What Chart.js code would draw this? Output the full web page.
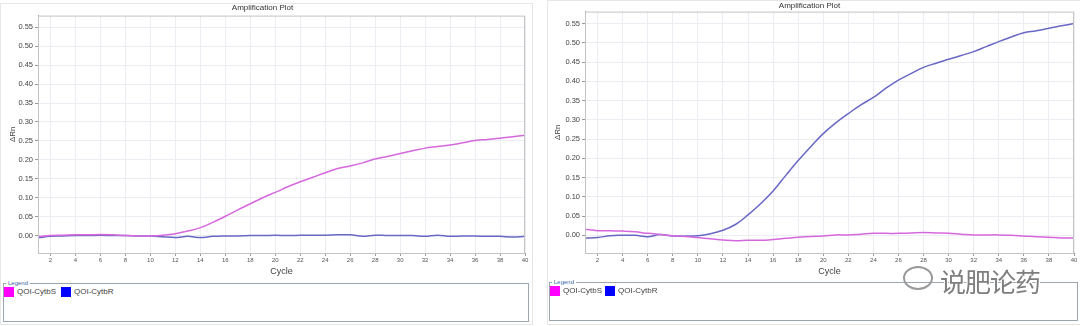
<!DOCTYPE html>
<html>
<head>
<meta charset="utf-8">
<script src="https://cdn.jsdelivr.net/npm/chart.js@4.4.0/dist/chart.umd.min.js"></script>
<style>
    body { margin: 0; background: #fff; font-family: "Liberation Sans", Arial, sans-serif; }
    #page { position: relative; width: 1080px; height: 326px; overflow: hidden; }
    .panel { position: absolute; border: 1px solid #e6e6e6; }
    .holder { position: absolute; width: 535px; height: 280px; }
    fieldset.legendBox {
        position: absolute; margin: 0; padding: 0;
        border: 1px solid #9aa6b0; box-sizing: border-box;
    }
    fieldset.legendBox legend {
        font-size: 6px; color: #3a64a8; padding: 0 2px; margin-left: 2px; line-height: 6px;
    }
    .item { position: absolute; top: 1px; font-size: 8px; color: #444; line-height: 10px; white-space: nowrap; }
    .swatch { display: inline-block; width: 10px; height: 10px; vertical-align: top; margin-right: 3px; }
    #mark {
        position: absolute; left: 940px; top: 262px; font-size: 26px; color: #7e7e7e;
        font-family: "Noto Sans CJK SC", sans-serif; letter-spacing: -1px;
        text-shadow: 1px 1px 0 #fff, -1px -1px 0 #fff, 1px -1px 0 #fff, -1px 1px 0 #fff;
    }
    #bubble {
        position: absolute; left: 903px; top: 266px; width: 30px; height: 24px;
        border: 2px solid #9a9a9a; border-radius: 50%; box-sizing: border-box;
    }
</style>
</head>
<body>
<div id="page">
    <div class="panel" style="left:0px;top:3px;width:531px;height:320px;"></div>
    <div class="panel" style="left:547px;top:0px;width:532px;height:323px;"></div>

    <div class="holder" style="left:0px;top:0px;"><canvas id="leftChart"></canvas></div>
    <div class="holder" style="left:545px;top:0px;"><canvas id="rightChart"></canvas></div>

    <fieldset class="legendBox" style="left:3px;top:280px;width:526px;height:42px;">
        <legend>Legend</legend>
        <div class="item" style="left:0px;"><span class="swatch" style="background:#ff00ff"></span>QOI-CytbS</div>
        <div class="item" style="left:57px;"><span class="swatch" style="background:#0000ff"></span>QOI-CytbR</div>
    </fieldset>
    <fieldset class="legendBox" style="left:549px;top:279px;width:529px;height:42px;">
        <legend>Legend</legend>
        <div class="item" style="left:0px;"><span class="swatch" style="background:#ff00ff"></span>QOI-CytbS</div>
        <div class="item" style="left:55px;"><span class="swatch" style="background:#0000ff"></span>QOI-CytbR</div>
    </fieldset>

    <div id="bubble"></div>
    <div id="mark">说肥论药</div>
</div>

<script>
// cycle numbers (x values)
var cycles = [1, 2, 3, 4, 5, 6, 7, 8, 9, 10, 11, 12, 13, 14, 15, 16, 17, 18, 19, 20,
    21, 22, 23, 24, 25, 26, 27, 28, 29, 30, 31, 32, 33, 34, 35, 36, 37, 38, 39, 40];

// tick labels
var xTicks = [2, 4, 6, 8, 10, 12, 14, 16, 18, 20, 22, 24, 26, 28, 30, 32, 34, 36, 38, 40];
var yTicks = [0.00, 0.05, 0.10, 0.15, 0.20, 0.25, 0.30, 0.35, 0.40, 0.45, 0.50, 0.55];

var seriesNames = ["QOI-CytbS", "QOI-CytbR"];

// left plot
var leftCytbS = [-0.003, 0.000, 0.001, 0.002, 0.002, 0.003, 0.002, 0.000, -0.001, -0.001,
    0.001, 0.005, 0.012, 0.021, 0.035, 0.051, 0.068, 0.084, 0.100, 0.114,
    0.129, 0.142, 0.154, 0.166, 0.177, 0.184, 0.192, 0.202, 0.209, 0.217,
    0.224, 0.231, 0.235, 0.239, 0.245, 0.251, 0.254, 0.257, 0.261, 0.265];
var leftCytbR = [-0.006, -0.002, -0.001, 0.000, 0.000, 0.001, 0.000, 0.000, -0.001, -0.001,
    -0.003, -0.005, -0.002, -0.005, -0.002, -0.001, -0.001, 0.000, 0.000, 0.001,
    0.000, 0.001, 0.001, 0.001, 0.002, 0.002, -0.002, 0.001, 0.000, 0.000,
    0.000, -0.002, 0.001, -0.002, -0.001, -0.001, -0.002, -0.002, -0.004, -0.002];

// right plot
var rightCytbS = [0.016, 0.012, 0.012, 0.011, 0.009, 0.005, 0.002, -0.001, -0.003, -0.006,
    -0.009, -0.012, -0.014, -0.013, -0.013, -0.011, -0.008, -0.005, -0.003, -0.002,
    0.001, 0.001, 0.003, 0.005, 0.005, 0.005, 0.006, 0.007, 0.006, 0.005,
    0.003, 0.001, 0.001, 0.001, 0.000, -0.002, -0.004, -0.005, -0.007, -0.007];
var rightCytbR = [-0.007, -0.006, -0.001, 0.000, 0.000, -0.004, 0.002, -0.002, -0.002, -0.001,
    0.004, 0.013, 0.028, 0.053, 0.082, 0.115, 0.155, 0.194, 0.230, 0.264,
    0.292, 0.316, 0.339, 0.358, 0.382, 0.403, 0.420, 0.436, 0.447, 0.457,
    0.467, 0.477, 0.490, 0.503, 0.515, 0.526, 0.531, 0.538, 0.544, 0.550];

function toPoints(values) {
    return cycles.map(function (c, i) { return { x: c, y: values[i] }; });
}

// grey frame round the plotting area
var plotFrame = {
    id: 'plotFrame',
    afterDatasetsDraw: function (chart) {
        var a = chart.chartArea, c = chart.ctx;
        c.save();
        c.strokeStyle = '#c4c4c4';
        c.lineWidth = 1;
        c.strokeRect(a.left + 0.5, a.top + 0.5, a.right - a.left - 1, a.bottom - a.top);
        c.restore();
    }
};

function DrawPlot(canvasId, sValues, rValues, yAxisWidth, padRight, titlePad) {
    var ctx = document.getElementById(canvasId);

    var data = {
        datasets: [{
            label: seriesNames[0],
            data: toPoints(sValues),
            borderColor: 'rgb(214, 104, 222)',
            borderWidth: 1.5,
            pointRadius: 0,
            tension: 0.4,
            fill: false
        }, {
            label: seriesNames[1],
            data: toPoints(rValues),
            borderColor: 'rgb(104, 104, 196)',
            borderWidth: 1.5,
            pointRadius: 0,
            tension: 0.4,
            fill: false
        }]
    };

    var chartConfig = {
        type: 'line',
        data: data,
        plugins: [plotFrame],
        options: {
            responsive: true,
            maintainAspectRatio: false,
            animation: false,
            layout: { padding: { left: 0, right: padRight, top: 0, bottom: 0 } },
            plugins: {
                legend: { display: false },
                tooltip: { enabled: false },
                title: {
                    display: true,
                    text: 'Amplification Plot',
                    color: '#333',
                    font: { size: 8, family: 'Liberation Sans', weight: 'normal' },
                    padding: titlePad
                }
            },
            scales: {
                x: {
                    type: 'linear',
                    min: 1,
                    max: 40,
                    afterBuildTicks: function (axis) {
                        axis.ticks = xTicks.map(function (v) { return { value: v }; });
                    },
                    afterFit: function (axis) { axis.height = 27; },
                    ticks: {
                        color: '#555',
                        font: { size: 6, family: 'Liberation Sans' },
                        padding: 1,
                        maxRotation: 0,
                        autoSkip: false
                    },
                    grid: { color: '#ececf2', tickLength: 3, tickColor: '#999' },
                    border: { color: '#999' },
                    title: {
                        display: true,
                        text: 'Cycle',
                        color: '#444',
                        font: { size: 9, family: 'Liberation Sans' },
                        padding: { top: 0, bottom: 3 }
                    }
                },
                y: {
                    type: 'linear',
                    min: -0.046,
                    max: 0.581,
                    afterBuildTicks: function (axis) {
                        axis.ticks = yTicks.map(function (v) { return { value: v }; });
                    },
                    afterFit: function (axis) { axis.width = yAxisWidth; },
                    ticks: {
                        color: '#444',
                        font: { size: 7.5, family: 'Liberation Sans' },
                        padding: 2,
                        callback: function (v) { return Number(v).toFixed(2); }
                    },
                    grid: { color: '#ececf2', tickLength: 3, tickColor: '#999' },
                    border: { color: '#999' },
                    title: {
                        display: true,
                        text: 'ΔRn',
                        color: '#444',
                        font: { size: 8, family: 'Liberation Sans' },
                        padding: { top: 8, bottom: 0 }
                    }
                }
            }
        }
    };

    return new Chart(ctx, chartConfig);
}

DrawPlot('leftChart', leftCytbS, leftCytbR, 38, 10, { top: 3, bottom: 3 });
DrawPlot('rightChart', rightCytbS, rightCytbR, 40, 6, { top: 1, bottom: 1 });
</script>
</body>
</html>
